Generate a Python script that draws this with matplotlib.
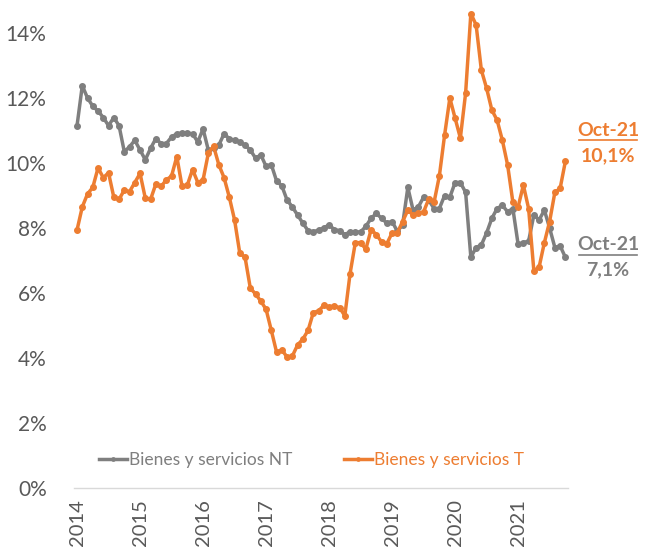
import matplotlib
matplotlib.use('Agg')
import matplotlib.pyplot as plt
from matplotlib.lines import Line2D
import numpy as np

plt.rcParams['font.family'] = ['Lato', 'DejaVu Sans']

# monthly series, Jan-2014 .. Oct-2021 (%)
nt = [11.15, 12.38, 12.0, 11.75, 11.6, 11.4, 11.15, 11.4, 11.15, 10.35, 10.5, 10.7,
      10.4, 10.1, 10.45, 10.75, 10.6, 10.6, 10.8, 10.9, 10.92, 10.92, 10.9, 10.65,
      11.05, 10.4, 10.45, 10.55, 10.9, 10.75, 10.7, 10.65, 10.55, 10.4, 10.15, 10.25,
      9.9, 9.95, 9.45, 9.3, 8.86, 8.65, 8.4, 8.15, 7.92, 7.88, 7.94, 8.0,
      8.1, 7.95, 7.92, 7.8, 7.88, 7.88, 7.88, 8.05, 8.3, 8.45, 8.3, 8.15,
      8.2, 7.9, 8.1, 9.25, 8.55, 8.65, 8.95, 8.85, 8.6, 8.6, 9.0, 8.95,
      9.4, 9.4, 9.1, 7.1, 7.4, 7.48, 7.85, 8.3, 8.6, 8.7, 8.5, 8.6,
      7.5, 7.55, 7.6, 8.4, 8.25, 8.55, 8.0, 7.4, 7.45, 7.1]

t = [7.94, 8.65, 9.05, 9.25, 9.85, 9.55, 9.7, 8.95, 8.88, 9.17, 9.12, 9.4,
     9.68, 8.92, 8.88, 9.35, 9.28, 9.48, 9.6, 10.2, 9.28, 9.32, 9.8, 9.4,
     9.48, 10.3, 10.52, 9.95, 9.55, 8.95, 8.25, 7.22, 7.1, 6.15, 5.97, 5.75,
     5.5, 4.85, 4.18, 4.25, 4.03, 4.06, 4.4, 4.58, 4.85, 5.4, 5.45, 5.62,
     5.57, 5.6, 5.55, 5.3, 6.6, 7.55, 7.55, 7.35, 7.95, 7.8, 7.57, 7.52,
     7.85, 7.85, 8.2, 8.55, 8.4, 8.45, 8.5, 8.9, 8.8, 9.6, 10.86, 12.0,
     11.38, 10.77, 12.15, 14.6, 14.25, 12.86, 12.3, 11.63, 11.32, 10.7, 9.94, 8.8,
     8.65, 9.32, 8.6, 6.68, 6.8, 7.55, 8.2, 9.1, 9.22, 10.05]

years = ['2014', '2015', '2016', '2017', '2018', '2019', '2020', '2021']
yticks = [0, 2, 4, 6, 8, 10, 12, 14]

gray = '#7f7f7f'
orange = '#ed7d31'
txt = '#595959'

fig = plt.figure(figsize=(6.51, 5.5), dpi=100)
ax = fig.add_axes([0.1143, 0.1127, 0.7582, 0.8863])

x = np.arange(len(nt))
ax.plot(x, nt, color=gray, lw=2.5, marker='o', ms=4, label='Bienes y servicios NT')
ax.plot(x, t, color=orange, lw=2.5, marker='o', ms=4, label='Bienes y servicios T')

ax.set_xlim(-0.5, len(nt) - 0.5)
ax.set_ylim(0, 15)
ax.set_yticks(yticks)
ax.set_yticklabels([f'{v}%' for v in yticks], fontsize=15, color=txt)
ax.set_xticks(np.arange(0, len(nt), 12))
ax.set_xticklabels(years, rotation=90, fontsize=14.5, color=txt)
ax.tick_params(axis='y', length=0, pad=20)
ax.tick_params(axis='x', length=0, pad=8)
for s in ['top', 'right', 'left']:
    ax.spines[s].set_visible(False)
ax.spines['bottom'].set_color('#d9d9d9')
ax.spines['bottom'].set_linewidth(1)

leg = ax.legend(loc='center', bbox_to_anchor=(0.48, 0.058), ncol=2, frameon=False,
                fontsize=12.5, handlelength=1.6, handletextpad=0.1, columnspacing=3.0,
                markerscale=0.6)
for text, c in zip(leg.get_texts(), [gray, orange]):
    text.set_color(c)

# end labels
fig.text(608 / 651, 1 - 130 / 550, 'Oct-21', color=orange, fontsize=14, fontweight='bold',
         ha='center', va='center')
fig.text(608 / 651, 1 - 156 / 550, '10,1%', color=orange, fontsize=14, fontweight='bold',
         ha='center', va='center')
fig.text(608 / 651, 1 - 245 / 550, 'Oct-21', color=gray, fontsize=14, fontweight='bold',
         ha='center', va='center')
fig.text(608 / 651, 1 - 270 / 550, '7,1%', color=gray, fontsize=14, fontweight='bold',
         ha='center', va='center')
fig.add_artist(Line2D([579 / 651, 637 / 651], [1 - 140 / 550] * 2, color=orange, lw=1.2))
fig.add_artist(Line2D([579 / 651, 637 / 651], [1 - 255 / 550] * 2, color=gray, lw=1.2))

plt.savefig('out.png', dpi=100)
plt.close()
